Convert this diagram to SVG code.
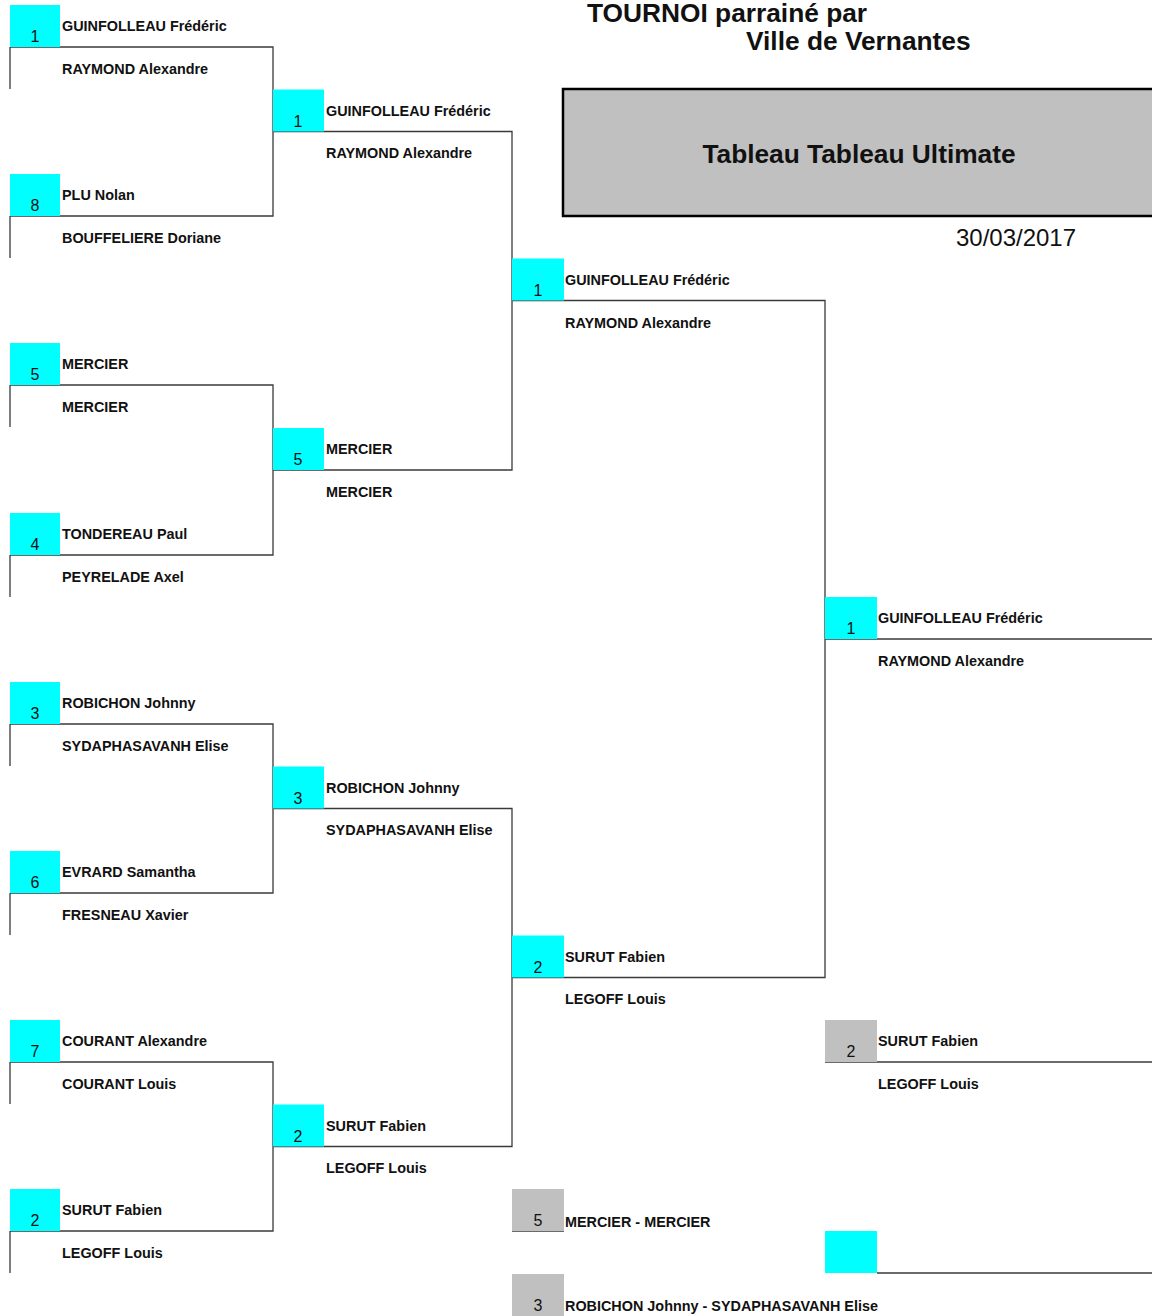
<svg xmlns="http://www.w3.org/2000/svg" width="1152" height="1316" viewBox="0 0 1152 1316">
<style>
.seed{fill:#00ffff}
.gseed{fill:#c0c0c0}
.num{font-family:"Liberation Sans",Arial,sans-serif;font-size:16px;fill:#111;text-anchor:middle}
.nm{font-family:"Liberation Sans",Arial,sans-serif;font-size:14.4px;font-weight:bold;fill:#111}
.ln{stroke:#3a3a3a;stroke-width:1.3;fill:none}
.title{font-family:"Liberation Sans",Arial,sans-serif;font-size:26.3px;font-weight:bold;fill:#111}
</style>
<rect width="1152" height="1316" fill="#fff"/>
<g id="header">
<text class="title" x="587" y="22">TOURNOI parrainé par</text>
<text class="title" x="746" y="50">Ville de Vernantes</text>
<rect x="563" y="89" width="600" height="127" fill="#c0c0c0" stroke="#000" stroke-width="2.5"/>
<text class="title" x="859" y="163" text-anchor="middle">Tableau Tableau Ultimate</text>
<text x="1016" y="246" font-family="'Liberation Sans',Arial,sans-serif" font-size="24" fill="#111" text-anchor="middle">30/03/2017</text>
</g>
<g id="connectors">
<path class="ln" d="M10,47H273V216H10 M10,47V89 M10,216V258"/>
<path class="ln" d="M10,385H273V555H10 M10,385V427 M10,555V597"/>
<path class="ln" d="M10,724H273V893H10 M10,724V766 M10,893V935"/>
<path class="ln" d="M10,1062H273V1231H10 M10,1062V1104 M10,1231V1273"/>
<path class="ln" d="M273,131.5H512V470H273"/>
<path class="ln" d="M273,808.5H512V1146.5H273"/>
<path class="ln" d="M512,300.5H825V977.5H512"/>
<path class="ln" d="M825,639H1152"/>
<path class="ln" d="M825,1062H1152"/>
<path class="ln" d="M877,1273H1152"/>
<path class="ln" d="M512,1231H564"/>
</g>
<g id="r1-1"><rect class="seed" x="10" y="5" width="50" height="42"/><text class="num" x="35" y="42">1</text><text class="nm" x="62" y="31">GUINFOLLEAU Frédéric</text><text class="nm" x="62" y="74">RAYMOND Alexandre</text></g>
<g id="r1-8"><rect class="seed" x="10" y="174" width="50" height="42"/><text class="num" x="35" y="211">8</text><text class="nm" x="62" y="200">PLU Nolan</text><text class="nm" x="62" y="243">BOUFFELIERE Doriane</text></g>
<g id="r1-5"><rect class="seed" x="10" y="343" width="50" height="42"/><text class="num" x="35" y="380">5</text><text class="nm" x="62" y="369">MERCIER</text><text class="nm" x="62" y="412">MERCIER</text></g>
<g id="r1-4"><rect class="seed" x="10" y="513" width="50" height="42"/><text class="num" x="35" y="550">4</text><text class="nm" x="62" y="539">TONDEREAU Paul</text><text class="nm" x="62" y="582">PEYRELADE Axel</text></g>
<g id="r1-3"><rect class="seed" x="10" y="682" width="50" height="42"/><text class="num" x="35" y="719">3</text><text class="nm" x="62" y="708">ROBICHON Johnny</text><text class="nm" x="62" y="751">SYDAPHASAVANH Elise</text></g>
<g id="r1-6"><rect class="seed" x="10" y="851" width="50" height="42"/><text class="num" x="35" y="888">6</text><text class="nm" x="62" y="877">EVRARD Samantha</text><text class="nm" x="62" y="920">FRESNEAU Xavier</text></g>
<g id="r1-7"><rect class="seed" x="10" y="1020" width="50" height="42"/><text class="num" x="35" y="1057">7</text><text class="nm" x="62" y="1046">COURANT Alexandre</text><text class="nm" x="62" y="1089">COURANT Louis</text></g>
<g id="r1-2"><rect class="seed" x="10" y="1189" width="50" height="42"/><text class="num" x="35" y="1226">2</text><text class="nm" x="62" y="1215">SURUT Fabien</text><text class="nm" x="62" y="1258">LEGOFF Louis</text></g>
<g id="r2-1"><rect class="seed" x="273" y="89.5" width="51" height="42"/><text class="num" x="298" y="126.5">1</text><text class="nm" x="326" y="115.5">GUINFOLLEAU Frédéric</text><text class="nm" x="326" y="158">RAYMOND Alexandre</text></g>
<g id="r2-5"><rect class="seed" x="273" y="428" width="51" height="42"/><text class="num" x="298" y="465">5</text><text class="nm" x="326" y="454">MERCIER</text><text class="nm" x="326" y="497">MERCIER</text></g>
<g id="r2-3"><rect class="seed" x="273" y="766.5" width="51" height="42"/><text class="num" x="298" y="803.5">3</text><text class="nm" x="326" y="792.5">ROBICHON Johnny</text><text class="nm" x="326" y="835">SYDAPHASAVANH Elise</text></g>
<g id="r2-2"><rect class="seed" x="273" y="1104.5" width="51" height="42"/><text class="num" x="298" y="1141.5">2</text><text class="nm" x="326" y="1130.5">SURUT Fabien</text><text class="nm" x="326" y="1173">LEGOFF Louis</text></g>
<g id="r3-1"><rect class="seed" x="512" y="258.5" width="52" height="42"/><text class="num" x="538" y="295.5">1</text><text class="nm" x="565" y="284.5">GUINFOLLEAU Frédéric</text><text class="nm" x="565" y="327.5">RAYMOND Alexandre</text></g>
<g id="r3-2"><rect class="seed" x="512" y="935.5" width="52" height="42"/><text class="num" x="538" y="972.5">2</text><text class="nm" x="565" y="961.5">SURUT Fabien</text><text class="nm" x="565" y="1004">LEGOFF Louis</text></g>
<g id="final"><rect class="seed" x="825" y="597" width="52" height="42"/><text class="num" x="851" y="634">1</text><text class="nm" x="878" y="623">GUINFOLLEAU Frédéric</text><text class="nm" x="878" y="666">RAYMOND Alexandre</text></g>
<g id="runner-up"><rect class="gseed" x="825" y="1020" width="52" height="42"/><text class="num" x="851" y="1057">2</text><text class="nm" x="878" y="1046">SURUT Fabien</text><text class="nm" x="878" y="1089">LEGOFF Louis</text></g>
<g id="third-slot"><rect class="seed" x="825" y="1231" width="52" height="42"/></g>
<g id="semi-loser-5"><rect class="gseed" x="512" y="1189" width="52" height="42"/><text class="num" x="538" y="1226">5</text><text class="nm" x="565" y="1227">MERCIER - MERCIER</text></g>
<g id="semi-loser-3"><rect class="gseed" x="512" y="1274" width="52" height="42"/><text class="num" x="538" y="1311">3</text><text class="nm" x="565" y="1311">ROBICHON Johnny - SYDAPHASAVANH Elise</text></g>
</svg>
